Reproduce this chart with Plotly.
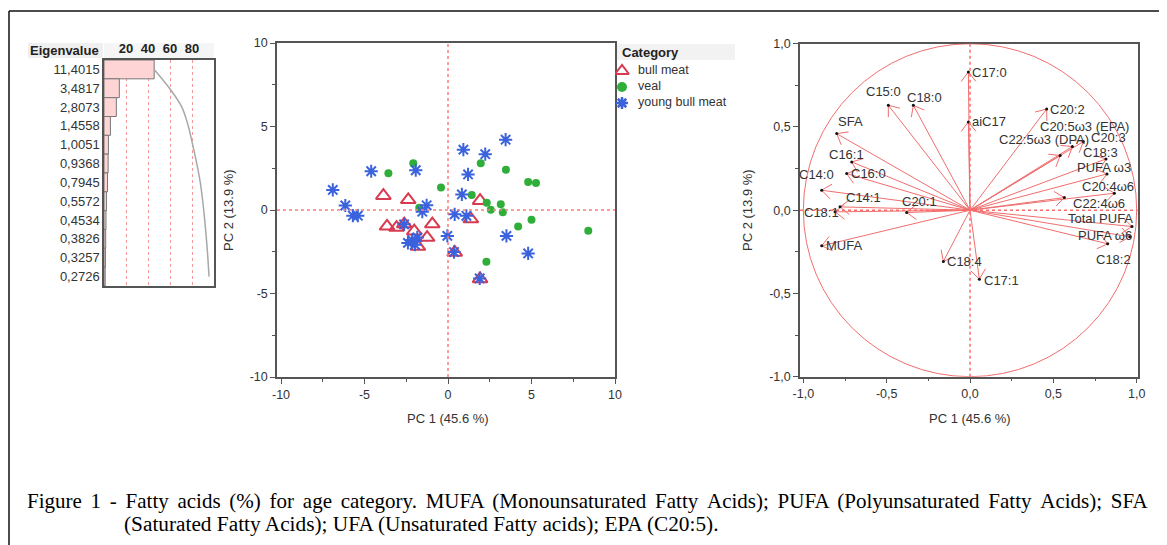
import plotly.graph_objects as go
import numpy as np

W, H = 1167, 545
PAGE_OFFSET = 8  # the page places the figure 8 px from the top-left corner

# ---------------- data ----------------
eigen_labels = ["11,4015", "3,4817", "2,8073", "1,4558", "1,0051", "0,9368",
                "0,7945", "0,5572", "0,4534", "0,3826", "0,3257", "0,2726"]
eigenvalues = [11.4015, 3.4817, 2.8073, 1.4558, 1.0051, 0.9368,
               0.7945, 0.5572, 0.4534, 0.3826, 0.3257, 0.2726]
n_variables = 25
eigen_axis_ticks = [20, 40, 60, 80]

categories = ["bull meat", "veal", "young bull meat"]

bull_pc1 = [-3.87, -2.38, -3.65, -3.08, -2.62, -2.02, -0.94, -1.25, -1.80, 0.40, 1.92, 1.92, 1.37]
bull_pc2 = [0.86, 0.61, -0.98, -1.05, -0.84, -1.27, -0.84, -1.65, -2.19, -2.54, -4.13, 0.56, -0.54]

veal_pc1 = [-3.57, -2.08, -1.72, -0.42, 1.42, 1.96, 3.47, 2.32, 2.56, 3.16, 3.28, 4.20, 5.00, 4.80, 5.27, 2.30, 8.40]
veal_pc2 = [2.20, 2.80, 0.14, 1.34, 0.90, 2.80, 2.41, 0.43, 0.01, 0.35, -0.13, -0.99, -0.59, 1.67, 1.61, -3.10, -1.24]

young_pc1 = [-6.90, -6.15, -5.70, -5.40, -4.60, -1.93, -1.28, -1.54, -2.63, -2.40, -2.15, -1.98, -1.84,
             -0.04, 0.40, 1.10, 0.36, 1.90, 0.83, 0.92, 1.20, 2.23, 3.45, 3.50, 4.80]
young_pc2 = [1.20, 0.27, -0.34, -0.34, 2.32, 2.38, 0.28, -0.10, -0.86, -1.97, -1.80, -2.08, -1.64,
             -1.55, -0.26, -0.35, -2.52, -4.10, 0.93, 3.61, 2.13, 3.34, 4.21, -1.55, -2.60]

var_names = ["C17:0", "aiC17", "C15:0", "C18:0", "SFA", "C16:1", "C16:0", "C14:0", "C14:1",
             "C18:1", "C20:1", "MUFA", "C18:4", "C17:1", "C20:2", "C20:5ω3 (EPA)",
             "C22:5ω3 (DPA)", "C20:3", "C18:3", "PUFA ω3", "C20:4ω6", "C22:4ω6",
             "Total PUFA", "PUFA ω6", "C18:2"]
load_pc1 = [-0.01, -0.01, -0.49, -0.34, -0.80, -0.71, -0.74, -0.89, -0.78,
            -0.81, -0.38, -0.89, -0.16, 0.056, 0.46, 0.614,
            0.541, 0.68, 0.816, 0.822, 0.866, 0.566,
            0.972, 0.96, 0.826]
load_pc2 = [0.83, 0.53, 0.63, 0.63, 0.46, 0.29, 0.22, 0.12, 0.02,
            -0.01, -0.014, -0.214, -0.308, -0.414, 0.608, 0.382,
            0.328, 0.412, 0.308, 0.218, 0.102, 0.076,
            -0.098, -0.16, -0.202]

# label offsets in pixels (style only)
label_shift = {
    "C17:0": (21, 0), "aiC17": (21, 0), "C15:0": (-5, 14), "C18:0": (11, 8),
    "SFA": (14, 12), "C16:1": (-5, 7), "C16:0": (22, 0), "C14:0": (-5, 16),
    "C14:1": (23, 9), "C18:1": (-14, -1), "C20:1": (13, 11), "MUFA": (22, 0),
    "C18:4": (21, 0), "C17:1": (22, -1), "C20:2": (21, -1), "C20:5ω3 (EPA)": (12, 20),
    "C22:5ω3 (DPA)": (-16, 16), "C20:3": (25, 4), "C18:3": (-6, 6), "PUFA ω3": (-3, 6),
    "C20:4ω6": (-6, 7), "C22:4ω6": (35, -6), "Total PUFA": (-32, 8), "PUFA ω6": (-25, 1),
    "C18:2": (6, -16),
}

caption_1 = ("Figure 1 - Fatty acids (%) for age category. MUFA (Monounsaturated Fatty Acids); "
             "PUFA (Polyunsaturated Fatty Acids); SFA")
caption_2 = "(Saturated Fatty Acids); UFA (Unsaturated Fatty acids); EPA (C20:5)."


def PX(p):
    return (p - PAGE_OFFSET) / W


def PY(p):
    return 1 - (p - PAGE_OFFSET) / H


SANS = "Arial, Liberation Sans, sans-serif"
SERIF = "Liberation Serif, Times New Roman, serif"
TXT = "#333333"
RED = "#f06e6e"

cat_styles = {
    "bull meat": dict(symbol="triangle-up-open", size=13, color="#d83a50", line=dict(width=2, color="#d83a50")),
    "veal": dict(symbol="circle", size=8, color="#2fae3a"),
    "young bull meat": dict(symbol="asterisk-open", size=11, color="#3a62dd", line=dict(width=2, color="#3a62dd")),
}
legend_styles = {
    "bull meat": dict(symbol="triangle-up-open", size=12, color="#d83a50", line=dict(width=2, color="#d83a50")),
    "veal": dict(symbol="circle", size=10, color="#2fae3a"),
    "young bull meat": dict(symbol="asterisk-open", size=10, color="#3a62dd", line=dict(width=2.5, color="#3a62dd")),
}

fig = go.Figure()

# ---------------- eigenvalue panel ----------------
pct = [v / n_variables * 100 for v in eigenvalues]
cum = list(np.cumsum(pct))
rows = list(range(len(eigenvalues)))

fig.add_trace(go.Bar(x=pct, y=rows, orientation="h", width=1.0,
                     marker=dict(color="#ffd4d4", line=dict(color="#777777", width=1)),
                     xaxis="x", yaxis="y", showlegend=False, hoverinfo="skip"))
fig.add_trace(go.Scatter(x=cum, y=rows, mode="lines",
                         line=dict(color="#a8a8a8", width=1.5, shape="spline"),
                         xaxis="x", yaxis="y", showlegend=False, hoverinfo="skip"))

# ---------------- score plot ----------------
score_data = {"bull meat": (bull_pc1, bull_pc2), "veal": (veal_pc1, veal_pc2),
              "young bull meat": (young_pc1, young_pc2)}
for cat in categories:
    xs, ys = score_data[cat]
    fig.add_trace(go.Scatter(x=xs, y=ys, mode="markers", name=cat, marker=cat_styles[cat],
                             xaxis="x2", yaxis="y2", showlegend=False))

# manual legend (own hidden axis, one row per category)
leg_rows = list(range(len(categories)))
for i, cat in enumerate(categories):
    fig.add_trace(go.Scatter(x=[7], y=[leg_rows[i]], mode="markers", marker=legend_styles[cat],
                             xaxis="x4", yaxis="y4", showlegend=False, hoverinfo="skip"))
fig.add_trace(go.Scatter(x=[23] * len(categories), y=leg_rows, mode="text", text=categories,
                         textposition="middle right",
                         textfont=dict(family=SANS, size=12.5, color=TXT),
                         xaxis="x4", yaxis="y4", showlegend=False, hoverinfo="skip"))

# ---------------- loading plot ----------------
ax, ay = [], []
hx, hy = [], []
L, th = 0.072, np.radians(38)
for x, y in zip(load_pc1, load_pc2):
    ax += [0, x, None]
    ay += [0, y, None]
    r = np.hypot(x, y)
    dx, dy = x / r, y / r
    for s in (th, -th):
        c, sn = np.cos(s), np.sin(s)
        bx = dx * c - dy * sn
        by = dx * sn + dy * c
        hx += [x - L * bx, x, None]
        hy += [y - L * by, y, None]

fig.add_trace(go.Scatter(x=ax, y=ay, mode="lines", line=dict(color=RED, width=1),
                         xaxis="x3", yaxis="y3", showlegend=False, hoverinfo="skip"))
fig.add_trace(go.Scatter(x=hx, y=hy, mode="lines", line=dict(color=RED, width=1),
                         xaxis="x3", yaxis="y3", showlegend=False, hoverinfo="skip"))
fig.add_trace(go.Scatter(x=load_pc1, y=load_pc2, mode="markers",
                         marker=dict(color="#111111", size=3),
                         xaxis="x3", yaxis="y3", showlegend=False, hoverinfo="skip"))

annotations = []
for name, x, y in zip(var_names, load_pc1, load_pc2):
    sx, sy = label_shift[name]
    annotations.append(dict(x=x, y=y, xref="x3", yref="y3", text=name, showarrow=False,
                            xshift=sx, yshift=sy, xanchor="center", yanchor="middle",
                            font=dict(family=SANS, size=13, color=TXT)))


def ptext(x, y, text, size=13, color=TXT, family=SANS, xanchor="center", angle=0):
    return dict(x=PX(x), y=PY(y), xref="paper", yref="paper", text=text, showarrow=False,
                xanchor=xanchor, yanchor="middle", textangle=angle,
                font=dict(family=family, size=size, color=color))


annotations += [
    ptext(448, 418, "PC 1 (45.6 %)"),
    ptext(228, 210, "PC 2 (13.9 %)", angle=-90),
    ptext(970, 418, "PC 1 (45.6 %)"),
    ptext(747, 210, "PC 2 (13.9 %)", angle=-90),
    ptext(101, 50, "<b>Eigenvalue</b>", color="#222", xanchor="right"),
    ptext(620, 52, "<b>Category</b>", color="#222", xanchor="left"),
    ptext(25, 501, caption_1.replace(" ", " \u2006"), size=21, color="#000",
          family=SERIF, xanchor="left"),
    ptext(122, 524, caption_2, size=21.3, color="#000", family=SERIF, xanchor="left"),
]

shapes = [
    # outer frame
    dict(type="line", xref="paper", yref="paper", x0=PX(9), x1=1, y0=PY(11), y1=PY(11),
         line=dict(color="#111", width=1.5)),
    dict(type="line", xref="paper", yref="paper", x0=PX(9), x1=PX(9), y0=PY(11), y1=0,
         line=dict(color="#111", width=1.5)),
    # header backgrounds
    dict(type="rect", xref="paper", yref="paper", x0=PX(28), x1=PX(103), y0=PY(58), y1=PY(43),
         fillcolor="#efefef", line=dict(width=0), layer="below"),
    dict(type="rect", xref="paper", yref="paper", x0=PX(104), x1=PX(214), y0=PY(58), y1=PY(43),
         fillcolor="#f5f5f5", line=dict(width=0), layer="below"),
    dict(type="rect", xref="paper", yref="paper", x0=PX(617), x1=PX(735), y0=PY(60), y1=PY(44),
         fillcolor="#f2f2f2", line=dict(width=0), layer="below"),
    # score zero lines
    dict(type="line", xref="x2", yref="y2 domain", x0=0, x1=0, y0=0, y1=1,
         line=dict(color="#ff7b7b", width=1.5, dash="dot")),
    dict(type="line", xref="x2 domain", yref="y2", x0=0, x1=1, y0=0, y1=0,
         line=dict(color="#ff7b7b", width=1.5, dash="dot")),
    # loading zero lines and circle
    dict(type="line", xref="x3", yref="y3 domain", x0=0, x1=0, y0=0, y1=1,
         line=dict(color="#ff6b6b", width=1.5, dash="dot")),
    dict(type="line", xref="x3 domain", yref="y3", x0=0, x1=1, y0=0, y1=0,
         line=dict(color="#ff6b6b", width=1.5, dash="dot")),
    dict(type="circle", xref="x3", yref="y3", x0=-1, y0=-1, x1=1, y1=1,
         line=dict(color=RED, width=1)),
]

frame = dict(showline=True, mirror=True, linecolor="#555555", linewidth=1.5,
             zeroline=False, showgrid=False, automargin=False,
             tickfont=dict(family=SANS, size=12.5, color=TXT))

score_ticks = [-10, -5, 0, 5, 10]
load_ticks = [-1, -0.5, 0, 0.5, 1]
load_ticktext = ["-1,0", "-0,5", "0,0", "0,5", "1,0"]

fig.update_layout(
    width=W, height=H, margin=dict(l=0, r=0, t=0, b=0, pad=0, autoexpand=False),
    paper_bgcolor="white", plot_bgcolor="white", showlegend=False,
    font=dict(family=SANS, color=TXT),
    xaxis=dict(frame, domain=[PX(104), PX(214)], range=[0, 100], side="top", anchor="y",
               tickvals=eigen_axis_ticks,
               ticktext=["<b>%d</b>" % t for t in eigen_axis_ticks], ticks="",
               showgrid=True, gridcolor="#f49a9a", griddash="dot", gridwidth=1,
               tickfont=dict(family=SANS, size=13, color="#222")),
    yaxis=dict(frame, domain=[PY(286), PY(60)], range=[11.5, -0.5], anchor="x",
               tickvals=rows, ticktext=eigen_labels, ticks="",
               tickfont=dict(family=SANS, size=13, color=TXT)),
    xaxis2=dict(frame, domain=[PX(277), PX(615)], range=[-10.24, 10], anchor="y2",
                tickvals=score_ticks, ticktext=[str(t) for t in score_ticks],
                ticks="outside", ticklen=5, tickcolor="#555",
                minor=dict(ticks="outside", ticklen=3, tick0=0, dtick=2.5, tickcolor="#555")),
    yaxis2=dict(frame, domain=[PY(377), PY(43)], range=[-10, 10], anchor="x2",
                tickvals=score_ticks, ticktext=[str(t) for t in score_ticks],
                ticks="outside", ticklen=5, tickcolor="#555",
                minor=dict(ticks="outside", ticklen=3, tick0=0, dtick=2.5, tickcolor="#555")),
    xaxis3=dict(frame, domain=[PX(800), PX(1137.7)], range=[-1.02, 1.006], anchor="y3",
                tickvals=load_ticks, ticktext=load_ticktext,
                ticks="outside", ticklen=5, tickcolor="#555",
                minor=dict(ticks="outside", ticklen=3, tick0=0, dtick=0.25, tickcolor="#555")),
    yaxis3=dict(frame, domain=[PY(376.7), PY(43.7)], range=[-1, 1], anchor="x3",
                tickvals=load_ticks, ticktext=load_ticktext,
                ticks="outside", ticklen=5, tickcolor="#555",
                minor=dict(ticks="outside", ticklen=3, tick0=0, dtick=0.25, tickcolor="#555")),
    xaxis4=dict(domain=[PX(615), PX(735)], range=[0, 120], anchor="y4", visible=False,
                fixedrange=True),
    yaxis4=dict(domain=[PY(111), PY(63)], range=[2.5, -0.5], anchor="x4", visible=False,
                fixedrange=True),
    annotations=annotations,
    shapes=shapes,
)

fig.write_html("out.html")
